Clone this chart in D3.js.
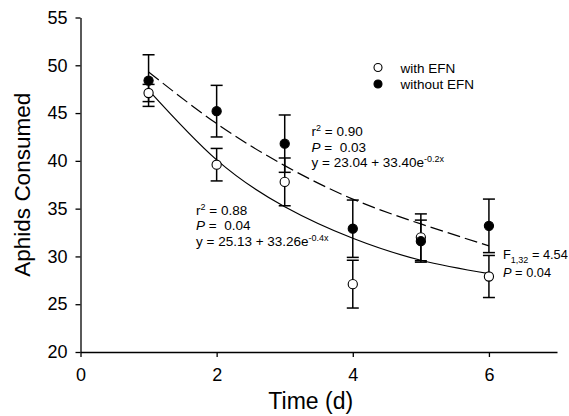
<!DOCTYPE html>
<html>
<head>
    <script src="https://cdn.jsdelivr.net/npm/d3@7"></script>
    <style>
        body {
            margin: 0;
            background: white;
            font-family: "Liberation Sans", Arial, Helvetica, sans-serif;
        }
        svg text {
            fill: black;
        }
    </style>
</head>
<body>
<svg id="chart"></svg>
<script>
    // values
    let times = [1, 2, 3, 4, 5, 6];
    let withEFN = [47.1, 39.6, 37.8, 27.1, 32.0, 27.9];
    let withEFNErr = [0.9, 1.7, 2.5, 2.5, 2.45, 2.2];
    let withoutEFN = [48.4, 45.2, 41.8, 32.9, 31.6, 33.2];
    let withoutEFNErr = [2.7, 2.7, 3.0, 3.0, 2.2, 2.8];

    // fitted curves as drawn in the figure
    let fitWith = [47.4, 40.1, 35.2, 31.9, 29.6, 28.2];
    let fitWithout = [49.3, 43.9, 39.5, 36.0, 33.4, 31.1];

    let xTicks = [0, 2, 4, 6];
    let yTicks = [20, 25, 30, 35, 40, 45, 50, 55];
    let legendLabels = ["with EFN", "without EFN"];

    function getConfig() {
        let width = 569;
        let height = 416;
        let margin = { top: 17.5, bottom: 64, left: 80.5, right: 12 };
        let bodyWidth = width - margin.left - margin.right;
        let bodyHeight = height - margin.top - margin.bottom;
        let container = d3.select("#chart")
            .attr("width", width)
            .attr("height", height);
        return { width, height, margin, bodyWidth, bodyHeight, container };
    }

    function getScales(config) {
        let { margin, width, height } = config;
        let xScale = d3.scaleLinear()
            .domain([0, 7])
            .range([margin.left, width - margin.right]);
        let yScale = d3.scaleLinear()
            .domain([20, 55])
            .range([height - margin.bottom, margin.top]);
        return { xScale, yScale };
    }

    function drawAxes(scales, config) {
        let { xScale, yScale } = scales;
        let { container, margin, height } = config;

        let axisX = d3.axisBottom(xScale)
            .tickValues(xTicks)
            .tickFormat(d3.format("d"))
            .tickSize(5)
            .tickPadding(11)
            .tickSizeOuter(0);
        let gx = container.append("g")
            .attr("transform", `translate(0,${height - margin.bottom})`)
            .call(axisX);

        let axisY = d3.axisLeft(yScale)
            .tickValues(yTicks)
            .tickFormat(d3.format("d"))
            .tickSize(5)
            .tickPadding(8)
            .tickSizeOuter(0);
        let gy = container.append("g")
            .attr("transform", `translate(${margin.left},0)`)
            .call(axisY);

        [gx, gy].forEach(g => {
            g.selectAll("path, line").attr("stroke", "black").attr("stroke-width", 1.3);
            g.selectAll("text")
                .attr("fill", "black")
                .style("font-size", "18px")
                .style("font-family", "'Liberation Sans', Arial, sans-serif");
        });

        container.append("text")
            .attr("x", xScale(3.5) - 8)
            .attr("y", 409)
            .attr("text-anchor", "middle")
            .style("font-size", "23px")
            .text("Time (d)");

        container.append("text")
            .attr("transform", `translate(30,${yScale(37.5)}) rotate(-90)`)
            .attr("text-anchor", "middle")
            .style("font-size", "22.5px")
            .text("Aphids Consumed");
    }

    function drawFits(scales, config) {
        let { xScale, yScale } = scales;
        let { container } = config;
        let line = d3.line()
            .x(d => xScale(d[0]))
            .y(d => yScale(d[1]))
            .curve(d3.curveNatural);

        container.append("path")
            .datum(times.map((t, i) => [t, fitWith[i]]))
            .attr("d", line)
            .attr("fill", "none")
            .attr("stroke", "black")
            .attr("stroke-width", 1.2);

        container.append("path")
            .datum(times.map((t, i) => [t, fitWithout[i]]))
            .attr("d", line)
            .attr("fill", "none")
            .attr("stroke", "black")
            .attr("stroke-width", 1.2)
            .attr("stroke-dasharray", "13,5");
    }

    function drawSeries(values, errs, scales, config) {
        let { xScale, yScale } = scales;
        let { container } = config;
        let data = times.map((t, i) => ({ t: t, v: values[i], e: errs[i] }));
        let cap = 6;

        let bars = container.append("g")
            .attr("stroke", "black")
            .attr("stroke-width", 1.5);
        bars.selectAll(".stem")
            .data(data)
            .enter().append("line")
            .attr("x1", d => xScale(d.t))
            .attr("x2", d => xScale(d.t))
            .attr("y1", d => yScale(d.v - d.e))
            .attr("y2", d => yScale(d.v + d.e));
        bars.selectAll(".capTop")
            .data(data)
            .enter().append("line")
            .attr("x1", d => xScale(d.t) - cap)
            .attr("x2", d => xScale(d.t) + cap)
            .attr("y1", d => yScale(d.v + d.e))
            .attr("y2", d => yScale(d.v + d.e));
        bars.selectAll(".capBottom")
            .data(data)
            .enter().append("line")
            .attr("x1", d => xScale(d.t) - cap)
            .attr("x2", d => xScale(d.t) + cap)
            .attr("y1", d => yScale(d.v - d.e))
            .attr("y2", d => yScale(d.v - d.e));

        return data;
    }

    function drawPoints(data, filled, scales, config) {
        let { xScale, yScale } = scales;
        config.container.append("g").selectAll("circle")
            .data(data)
            .enter().append("circle")
            .attr("cx", d => xScale(d.t))
            .attr("cy", d => yScale(d.v))
            .attr("r", 4.6)
            .attr("fill", filled ? "black" : "white")
            .attr("stroke", "black")
            .attr("stroke-width", 1.1);
    }

    function drawLegend(config) {
        let { container } = config;
        let legend = container.selectAll(".legend")
            .data(legendLabels)
            .enter().append("g")
            .attr("class", "legend")
            .attr("transform", (d, i) => `translate(378,${67.5 + i * 16.5})`);
        legend.append("circle")
            .attr("r", 4)
            .attr("fill", (d, i) => i === 0 ? "white" : "black")
            .attr("stroke", "black")
            .attr("stroke-width", 1.1);
        legend.append("text")
            .attr("x", 22.5)
            .attr("y", 5)
            .style("font-size", "13.5px")
            .text(d => d);
    }

    // lines: arrays of parts [text, kind] where kind is "", "i" (italic), "sup" or "sub"
    function drawNote(container, x, y, lines, step, size) {
        let text = container.append("text")
            .attr("x", x)
            .attr("y", y)
            .style("font-size", size + "px")
            .style("white-space", "pre");
        lines.forEach((parts, li) => {
            parts.forEach((p, pi) => {
                let ts = text.append("tspan").text(p[0]);
                if (pi === 0) ts.attr("x", x).attr("y", y + li * step);
                if (p[1] === "i") ts.style("font-style", "italic");
                if (p[1] === "sup") ts.style("font-size", "9px").attr("dy", -5);
                if (p[1] === "sub") ts.style("font-size", "9px").attr("dy", 4);
                if (pi > 0 && (parts[pi - 1][1] === "sup")) ts.attr("dy", 5);
                if (pi > 0 && (parts[pi - 1][1] === "sub")) ts.attr("dy", -4);
            });
        });
    }

    function drawNotes(config) {
        let { container } = config;
        drawNote(container, 311.5, 136, [
            [["r", ""], ["2", "sup"], [" = 0.90", ""]],
            [["P", "i"], [" =  0.03", ""]],
            [["y = 23.04 + 33.40e", ""], ["-0.2x", "sup"]]
        ], 15.6, 13.5);
        drawNote(container, 196, 214.5, [
            [["r", ""], ["2", "sup"], [" = 0.88", ""]],
            [["P", "i"], [" =  0.04", ""]],
            [["y = 25.13 + 33.26e", ""], ["-0.4x", "sup"]]
        ], 15.6, 13.5);
        drawNote(container, 503, 259, [
            [["F", ""], ["1,32", "sub"], [" = 4.54", ""]],
            [["P", "i"], [" = 0.04", ""]]
        ], 17.5, 12.8);
    }

    function drawChart() {
        let config = getConfig();
        let scales = getScales(config);
        drawAxes(scales, config);
        drawFits(scales, config);
        let openData = drawSeries(withEFN, withEFNErr, scales, config);
        let filledData = drawSeries(withoutEFN, withoutEFNErr, scales, config);
        drawPoints(openData, false, scales, config);
        drawPoints(filledData, true, scales, config);
        drawLegend(config);
        drawNotes(config);
    }

    drawChart();
</script>
</body>
</html>
